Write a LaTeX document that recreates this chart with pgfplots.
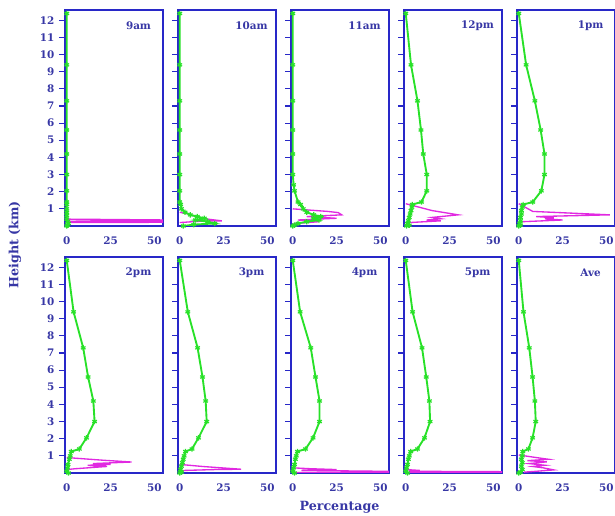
\documentclass[border=0pt]{standalone}
\usepackage{pgfplots}
\pgfplotsset{compat=1.18}
\usepgfplotslibrary{groupplots}
\usepackage{fontspec}
\setmainfont{DejaVu Serif}
\definecolor{textblue}{RGB}{55,55,165}
\definecolor{frameblue}{RGB}{40,40,200}
\definecolor{lgreen}{RGB}{40,225,40}
\definecolor{lmag}{RGB}{225,40,225}
\begin{document}
\begin{tikzpicture}
\tikzset{ttl/.style={font=\bfseries\fontsize{7.8}{9}\selectfont, text=textblue}}
\pgfplotsset{
  panel/.style={
    width=73.5pt, height=162pt, scale only axis,
    xmin=-1, xmax=55, ymin=0, ymax=12.6,
    xtick={0,25,50}, ytick={1,2,3,4,5,6,7,8,9,10,11,12},
    tick align=outside, xtick pos=bottom, ytick pos=left,
    major tick length=4.5pt,
    xtick style={draw=none},
    axis line style={frameblue, line width=1.1pt},
    tick style={frameblue, line width=0.8pt},
    ticklabel style={font=\bfseries\fontsize{7.8}{9}\selectfont, text=textblue},
    /pgf/number format/assume math mode=true,
  },
  gline/.style={lgreen, line width=1.4pt, mark=asterisk, mark size=2pt, mark options={line width=0.9pt}},
  mline/.style={lmag, line width=1pt, no marks},
}
\begin{groupplot}[group style={group size=5 by 2, horizontal sep=11.25pt, vertical sep=23.25pt, yticklabels at=edge left}, panel]
% 9am
\nextgroupplot
\coordinate (TL) at (rel axis cs:0,1);
\addplot[mline] coordinates {(0,0.4)(70,0.34)(70,0.3)(0,0.28)(70,0.26)(70,0.22)(0,0.2)};
\addplot[gline] coordinates {(0,12.4)(0,9.4)(0,7.3)(0,5.6)(0,4.2)(0,3.0)(0,2.05)(0,1.4)(0,1.25)(0,1.0)(0,0.8)(0,0.6)(0,0.4)(0.5,0.25)(1,0.15)(0.5,0.05)(0,0)};
\node[ttl] at (rel axis cs:0.75,0.925) {9am};
% 10am
\nextgroupplot
\addplot[mline] coordinates {(0,0.8)(5,0.7)(12,0.45)(24,0.3)(10,0.27)(3,0.22)(0,0.2)};
\addplot[gline] coordinates {(0,12.4)(0,9.4)(0,7.3)(0,5.6)(0,4.2)(0,3.0)(0,2.05)(0,1.4)(0.5,1.25)(1,1.0)(3,0.8)(6,0.65)(10,0.55)(14,0.45)(9,0.35)(16,0.25)(20,0.15)(8,0.08)(2,0)};
\node[ttl] at (rel axis cs:0.75,0.925) {10am};
% 11am
\nextgroupplot
\addplot[mline] coordinates {(0,1.0)(20,0.85)(26,0.78)(28,0.65)(8,0.55)(25,0.45)(3,0.35)(15,0.25)(2,0.15)(0,0.1)};
\addplot[gline] coordinates {(0,12.4)(0,9.4)(0,7.3)(0,5.6)(0,4.2)(0,3.0)(0.5,2.4)(1,2.05)(3,1.4)(4.5,1.25)(6,1.0)(8,0.8)(12,0.65)(16,0.55)(12,0.45)(15,0.35)(8,0.25)(3,0.15)(1,0.05)(0,0)};
\node[ttl] at (rel axis cs:0.75,0.925) {11am};
% 12pm
\nextgroupplot
\addplot[mline] coordinates {(0,1.3)(15,0.9)(30,0.65)(15,0.5)(20,0.42)(12,0.35)(20,0.3)(2,0.2)(0,0.15)};
\addplot[gline] coordinates {(0,12.4)(3,9.4)(6.7,7.3)(8.7,5.6)(10,4.2)(12,3.0)(12,2.05)(9,1.4)(3.7,1.25)(3.5,1.1)(3,0.9)(2.5,0.7)(2,0.5)(1.5,0.3)(1,0.15)(2,0.05)(0.5,0)};
\node[ttl] at (rel axis cs:0.75,0.925) {12pm};
% 1pm
\nextgroupplot
\addplot[mline] coordinates {(0,1.3)(8,0.85)(52,0.65)(10,0.55)(20,0.48)(15,0.42)(25,0.35)(2,0.25)(0,0.2)};
\addplot[gline] coordinates {(0,12.4)(4.2,9.4)(9.2,7.3)(12.5,5.6)(14.7,4.2)(14.7,3.0)(12.9,2.05)(8,1.4)(2.5,1.25)(2,1.1)(1.5,0.9)(1.5,0.7)(1,0.5)(1,0.3)(0.5,0.15)(1,0.05)(0,0)};
\node[ttl] at (rel axis cs:0.75,0.925) {1pm};
% 2pm
\nextgroupplot
\addplot[mline] coordinates {(0,0.9)(20,0.75)(37,0.64)(15,0.55)(25,0.5)(12,0.45)(23,0.38)(5,0.25)(0,0.2)};
\addplot[gline] coordinates {(0,12.4)(3.9,9.4)(9.4,7.3)(12.2,5.6)(15.2,4.2)(15.9,3.0)(11.3,2.05)(7.2,1.4)(2.6,1.25)(2,1.0)(1.5,0.8)(0.7,0.5)(0.5,0.3)(0,0.1)(1,0)};
\node[ttl] at (rel axis cs:0.75,0.925) {2pm};
% 3pm
\nextgroupplot
\addplot[mline] coordinates {(0,0.5)(13,0.38)(35,0.22)(20,0.2)(3,0.15)(0,0.1)};
\addplot[gline] coordinates {(0,12.4)(4.6,9.4)(10.2,7.3)(13,5.6)(14.8,4.2)(15.4,3.0)(10.7,2.05)(7,1.4)(3.3,1.25)(2.5,1.0)(2,0.8)(1.5,0.6)(1,0.4)(0.5,0.2)(1,0.05)(0,0)};
\node[ttl] at (rel axis cs:0.75,0.925) {3pm};
% 4pm
\nextgroupplot
\addplot[mline] coordinates {(0,0.3)(10,0.25)(25,0.2)(5,0.15)(70,0.08)(70,0.05)(0,0.02)};
\addplot[gline] coordinates {(0,12.4)(4.2,9.4)(10.3,7.3)(13,5.6)(15.3,4.2)(15.3,3.0)(11.6,2.05)(7.3,1.4)(2.7,1.25)(2,1.0)(1.5,0.8)(1,0.5)(0.5,0.3)(0,0.1)(1,0)};
\node[ttl] at (rel axis cs:0.75,0.925) {4pm};
% 5pm
\nextgroupplot
\addplot[mline] coordinates {(0,0.2)(8,0.15)(2,0.1)(70,0.07)(70,0.04)(0,0.02)};
\addplot[gline] coordinates {(0,12.4)(3.9,9.4)(9.3,7.3)(11.7,5.6)(13.5,4.2)(13.9,3.0)(10.7,2.05)(6.7,1.4)(2.8,1.25)(2,1.0)(1.5,0.8)(1,0.5)(0.5,0.3)(0,0.1)(1,0)};
\node[ttl] at (rel axis cs:0.75,0.925) {5pm};
% Ave
\nextgroupplot
\addplot[mline] coordinates {(0,1.05)(10,0.9)(17,0.8)(5,0.72)(16,0.65)(6,0.55)(15,0.45)(8,0.38)(14,0.3)(20,0.18)(10,0.1)(3,0.05)};
\addplot[gline] coordinates {(0,12.4)(2.7,9.4)(6,7.3)(7.9,5.6)(9.2,4.2)(9.7,3.0)(7.9,2.05)(5.5,1.4)(2.3,1.25)(2,1.0)(1.5,0.8)(2,0.6)(1.5,0.4)(2,0.2)(1,0.05)(0,0)};
\node[ttl] at (rel axis cs:0.75,0.925) {Ave};
\end{groupplot}
\node[rotate=90, font=\bfseries\fontsize{9.5}{11}\selectfont, text=textblue] at ([shift={(-37.5pt,-176.25pt)}]TL) {Height (km)};
\node[font=\bfseries\fontsize{9.5}{11}\selectfont, text=textblue] at ([shift={(205.9pt,-372.75pt)}]TL) {Percentage};
\pgfresetboundingbox
\path[use as bounding box] ([shift={(-48.75pt,7.5pt)}]TL) rectangle ++(461.25pt,-387pt);
\end{tikzpicture}
\end{document}
